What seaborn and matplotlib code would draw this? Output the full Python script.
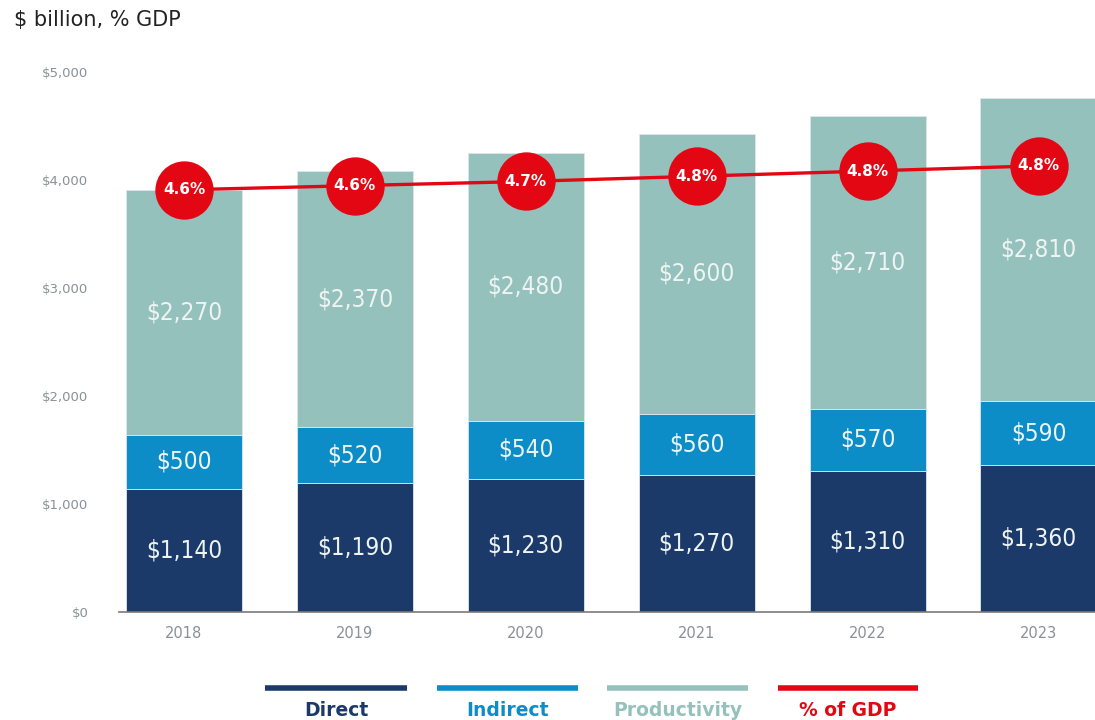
import seaborn as sns
import matplotlib.pyplot as plt
import pandas as pd
from matplotlib.lines import Line2D

years = ['2018', '2019', '2020', '2021', '2022', '2023']
direct = [1140, 1190, 1230, 1270, 1310, 1360]
indirect = [500, 520, 540, 560, 570, 590]
productivity = [2270, 2370, 2480, 2600, 2710, 2810]
gdp_share = [4.60, 4.64, 4.68, 4.73, 4.78, 4.83]
gdp_labels = ['4.6%', '4.6%', '4.7%', '4.8%', '4.8%', '4.8%']

c_direct = '#1b3a6a'
c_indirect = '#0d8dc8'
c_prod = '#95c1bd'
c_red = '#e30613'
c_tick = '#8a9096'

df = pd.DataFrame({'year': years, 'Direct': direct, 'Indirect': indirect,
                   'Productivity': productivity, 'gdp': gdp_share})
df['base2'] = df['Direct']
df['base3'] = df['Direct'] + df['Indirect']

sns.set_style('white')
plt.rcParams['font.family'] = ['DejaVu Sans']

fig = plt.figure(figsize=(10.95, 7.2), dpi=100)
ax = fig.add_axes([0.1087, 0.15, 0.8913, 0.75])

w = 0.68
sns.barplot(data=df, x='year', y='Direct', color=c_direct, width=w,
            edgecolor='#dfe6ea', linewidth=0.6, ax=ax, saturation=1)
sns.barplot(data=df, x='year', y='Indirect', bottom=df['base2'], color=c_indirect,
            width=w, edgecolor='#dfe6ea', linewidth=0.6, ax=ax, saturation=1)
sns.barplot(data=df, x='year', y='Productivity', bottom=df['base3'], color=c_prod,
            width=w, edgecolor='#dfe6ea', linewidth=0.6, ax=ax, saturation=1)

for i in range(len(years)):
    segs = [(0, direct[i]), (direct[i], indirect[i]),
            (direct[i] + indirect[i], productivity[i])]
    for b, v in segs:
        ax.text(i, b + v / 2, '${:,}'.format(v), ha='center', va='center',
                color='#eef4f4', fontsize=17.5, fontstretch='condensed',
                fontweight='light')

ax.set_xlim(-0.38, 5.33)
ax.set_ylim(0, 5000)
ax.set_yticks([0, 1000, 2000, 3000, 4000, 5000])
ax.set_yticklabels(['$0', '$1,000', '$2,000', '$3,000', '$4,000', '$5,000'])
ax.tick_params(axis='y', colors=c_tick, labelsize=9.5, length=0, pad=22)
ax.tick_params(axis='x', colors=c_tick, labelsize=10.5, length=0, pad=10)
ax.set_xlabel('')
ax.set_ylabel('')
for s in ['top', 'right', 'left']:
    ax.spines[s].set_visible(False)
ax.spines['bottom'].set_color('#7a7a7a')
ax.spines['bottom'].set_linewidth(1.2)

ax2 = ax.twinx()
ax2.set_ylim(0.55, 5.73)
ax2.plot(range(len(years)), gdp_share, color=c_red, lw=2.4, zorder=3)
ax2.plot(range(len(years)), gdp_share, 'o', color=c_red, ms=41, zorder=4)
for i, t in enumerate(gdp_labels):
    ax2.text(i, gdp_share[i], t, ha='center', va='center', color='white',
             fontsize=11, fontweight='bold', zorder=5)
ax2.axis('off')
ax2.set_xlim(-0.38, 5.33)

fig.text(0.013, 0.972, '$ billion, % GDP', fontsize=15, color='#222222',
         va='center', ha='left')

legend_items = [('Direct', c_direct, 265, 407), ('Indirect', c_indirect, 437, 578),
                ('Productivity', c_prod, 607, 748), ('% of GDP', c_red, 778, 918)]
for name, col, x0, x1 in legend_items:
    fig.add_artist(Line2D([x0 / 1095, x1 / 1095], [1 - 688 / 720] * 2,
                          color=col, lw=4, solid_capstyle='butt',
                          transform=fig.transFigure))
    fig.text((x0 + x1) / 2 / 1095, 1 - 710 / 720, name, color=col, fontsize=13.5,
             fontweight='bold', ha='center', va='center')

plt.savefig('out.png', dpi=100)
